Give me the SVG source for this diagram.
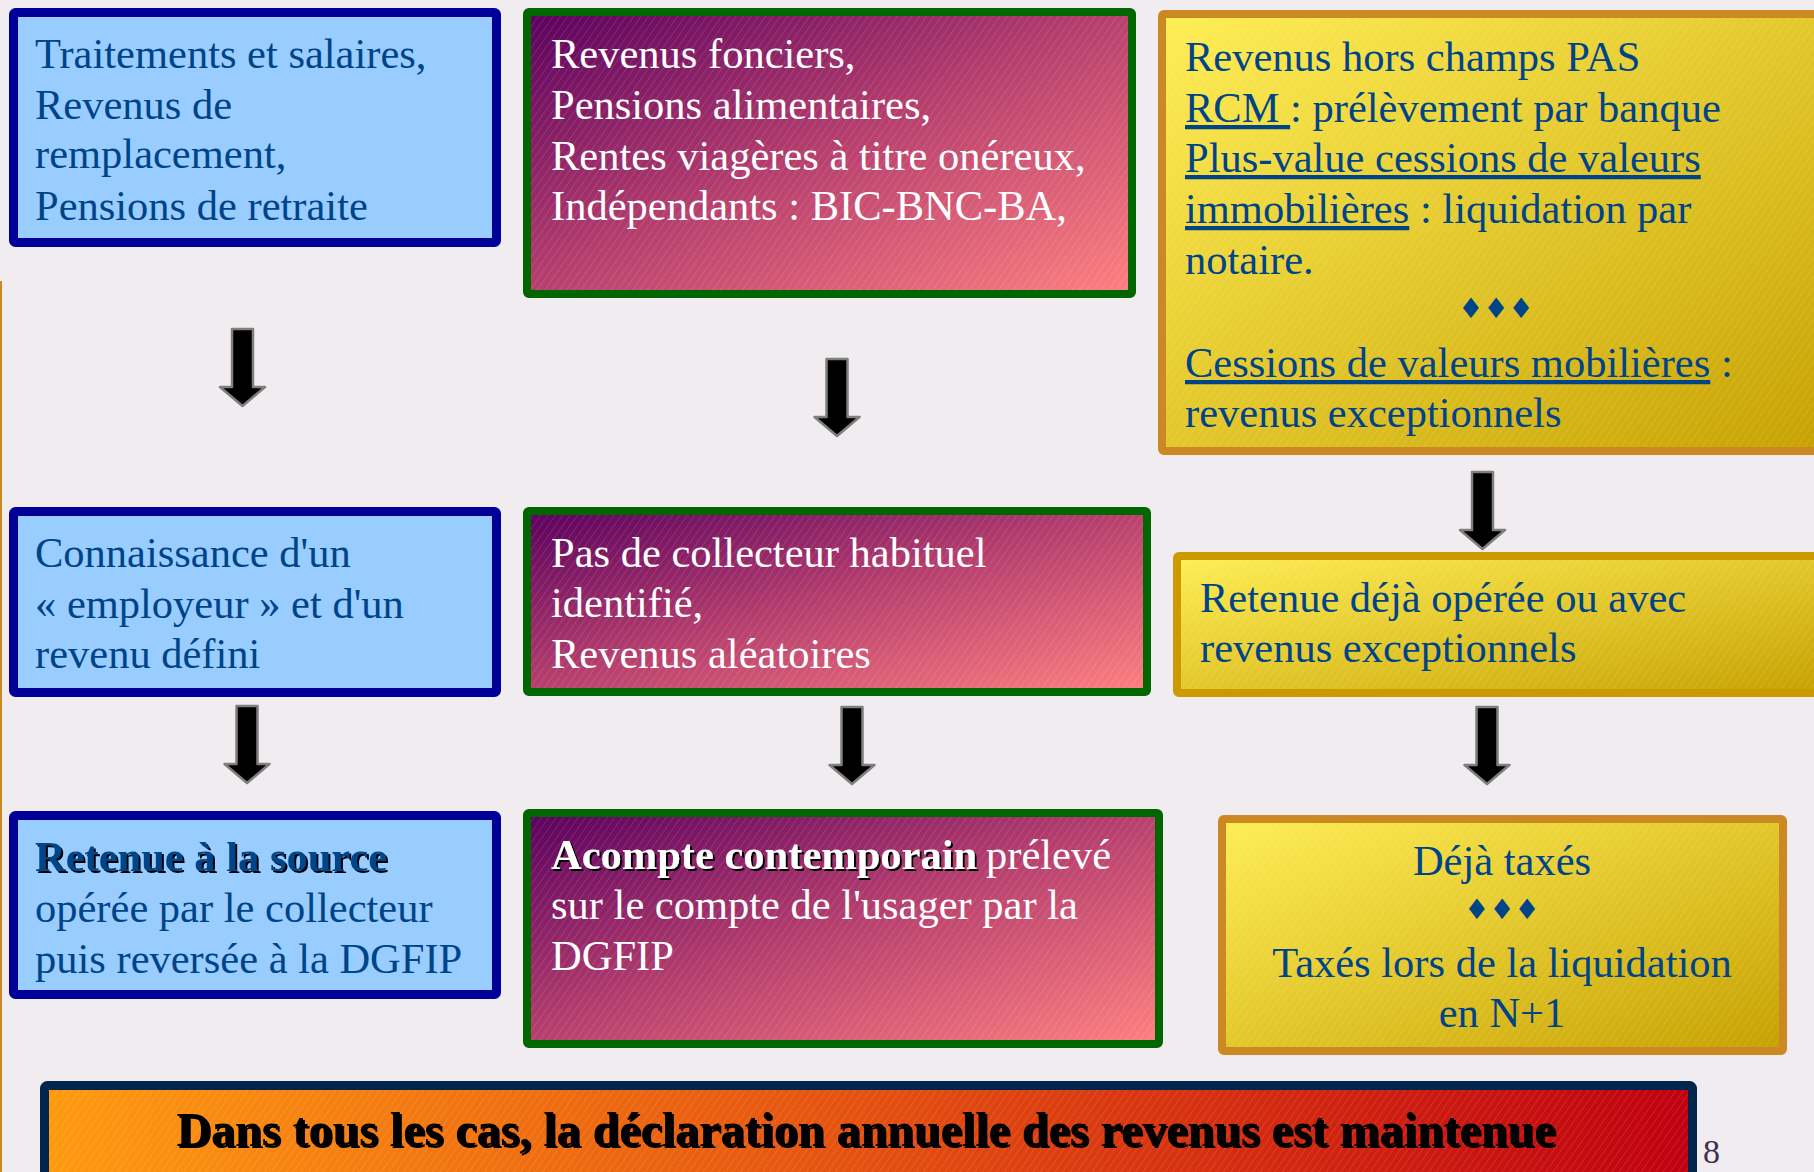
<svg xmlns="http://www.w3.org/2000/svg" xmlns:xlink="http://www.w3.org/1999/xlink" width="1814" height="1172" viewBox="0 0 1814 1172">
  <defs>
    <linearGradient id="gPurple" x1="0" y1="0" x2="1" y2="1">
      <stop offset="0" stop-color="#5A005E"/>
      <stop offset="0.5" stop-color="#B8406E"/>
      <stop offset="1" stop-color="#FF8080"/>
    </linearGradient>
    <linearGradient id="gYellow" x1="0" y1="0" x2="1" y2="1">
      <stop offset="0" stop-color="#FFEE55"/>
      <stop offset="1" stop-color="#C6A000"/>
    </linearGradient>
    <linearGradient id="gBar" x1="0" y1="0" x2="1" y2="0">
      <stop offset="0" stop-color="#FF9A10"/>
      <stop offset="0.5" stop-color="#E45010"/>
      <stop offset="1" stop-color="#C00010"/>
    </linearGradient>
    <pattern id="hatch" width="6" height="6" patternUnits="userSpaceOnUse" patternTransform="rotate(35)">
      <line x1="0" y1="0" x2="0" y2="6" stroke="#FFFFFF" stroke-opacity="0.22" stroke-width="1"/>
    </pattern>
    <filter id="shadow" x="-5%" y="-20%" width="110%" height="140%">
      <feDropShadow dx="2" dy="2" stdDeviation="0" flood-color="#000000" flood-opacity="1"/>
    </filter>
    <path id="arrow" d="M -10.5 0 H 10.5 V 58 H 22.5 L 0 77 L -22.5 58 H -10.5 Z"/>
  </defs>
  <style>
    .t { font-family: "Liberation Serif", "Times New Roman", serif; font-size: 42.5px; }
    .blue { fill: #004488; }
    .white { fill: #FFFFFF; }
    .bBlue { fill: #99CCFF; stroke: #000099; stroke-width: 9; }
    .bPurple { fill: url(#gPurple); stroke: #006600; stroke-width: 8; }
    .bYellow { fill: url(#gYellow); stroke: #CC8822; stroke-width: 8; }
    .hatch { fill: url(#hatch); }
    .arr { fill: #000000; stroke: #7F7F7F; stroke-width: 2.5; stroke-linejoin: round; }
    .dia { font-family: "DejaVu Sans", sans-serif; font-size: 28px; fill: #004488; }
    .u { text-decoration: underline; }
  </style>

  <rect x="0" y="0" width="1814" height="1172" fill="#F0ECF0"/>
  <rect x="0" y="281" width="2" height="891" fill="#CC8822"/>

  <g id="n1">
    <rect class="bBlue" x="13.5" y="12.5" width="483" height="230" rx="2"/>
    <text class="t blue" x="35" y="68">Traitements et salaires,</text>
    <text class="t blue" x="35" y="119">Revenus de</text>
    <text class="t blue" x="35" y="168">remplacement,</text>
    <text class="t blue" x="35" y="220">Pensions de retraite</text>
  </g>

  <g id="n2">
    <rect class="bPurple" x="527" y="12" width="605" height="282" rx="2"/>
    <rect class="hatch" x="531" y="16" width="597" height="274"/>
    <text class="t white" x="551" y="68">Revenus fonciers,</text>
    <text class="t white" x="551" y="119">Pensions alimentaires,</text>
    <text class="t white" x="551" y="170">Rentes viagères à titre onéreux,</text>
    <text class="t white" x="551" y="220">Indépendants : BIC-BNC-BA,</text>
  </g>

  <g id="n3">
    <rect class="bYellow" x="1162" y="14" width="680" height="437" rx="2"/>
    <rect class="hatch" x="1166" y="18" width="672" height="429"/>
    <text class="t blue" x="1185" y="71">Revenus hors champs PAS</text>
    <text class="t blue" x="1185" y="122"><tspan class="u">RCM </tspan>: prélèvement par banque</text>
    <text class="t blue" x="1185" y="172"><tspan class="u">Plus-value cessions de valeurs</tspan></text>
    <text class="t blue" x="1185" y="223"><tspan class="u">immobilières</tspan> : liquidation par</text>
    <text class="t blue" x="1185" y="274">notaire.</text>
    <text class="dia" x="1496" y="318" text-anchor="middle">♦♦♦</text>
    <text class="t blue" x="1185" y="377"><tspan class="u">Cessions de valeurs mobilières</tspan> :</text>
    <text class="t blue" x="1185" y="427">revenus exceptionnels</text>
  </g>

  <g id="n4">
    <rect class="bBlue" x="13.5" y="511.5" width="483" height="181" rx="2"/>
    <text class="t blue" x="35" y="567">Connaissance d'un</text>
    <text class="t blue" x="35" y="618">« employeur » et d'un</text>
    <text class="t blue" x="35" y="668">revenu défini</text>
  </g>

  <g id="n5">
    <rect class="bPurple" x="527" y="511" width="620" height="181" rx="2"/>
    <rect class="hatch" x="531" y="515" width="612" height="173"/>
    <text class="t white" x="551" y="567">Pas de collecteur habituel</text>
    <text class="t white" x="551" y="617">identifié,</text>
    <text class="t white" x="551" y="668">Revenus aléatoires</text>
  </g>

  <g id="n6">
    <rect class="bYellow" x="1177" y="556" width="660" height="137" rx="2" style="stroke:#CC9900"/>
    <rect class="hatch" x="1181" y="560" width="652" height="129"/>
    <text class="t blue" x="1200" y="612">Retenue déjà opérée ou avec</text>
    <text class="t blue" x="1200" y="662">revenus exceptionnels</text>
  </g>

  <g id="n7">
    <rect class="bBlue" x="13.5" y="815.5" width="483" height="179" rx="2"/>
    <text class="t blue" x="35" y="871" font-weight="bold" filter="url(#shadow)">Retenue à la source</text>
    <text class="t blue" x="35" y="922">opérée par le collecteur</text>
    <text class="t blue" x="35" y="973">puis reversée à la DGFIP</text>
  </g>

  <g id="n8">
    <rect class="bPurple" x="527" y="813" width="632" height="231" rx="2"/>
    <rect class="hatch" x="531" y="817" width="624" height="223"/>
    <text class="t white" x="551" y="869" font-weight="bold" filter="url(#shadow)">Acompte contemporain</text>
    <text class="t white" x="986" y="869">prélevé</text>
    <text class="t white" x="551" y="919">sur le compte de l'usager par la</text>
    <text class="t white" x="551" y="970">DGFIP</text>
  </g>

  <g id="n9">
    <rect class="bYellow" x="1222" y="819" width="561" height="232" rx="2"/>
    <rect class="hatch" x="1226" y="823" width="553" height="224"/>
    <text class="t blue" x="1502" y="875" text-anchor="middle">Déjà taxés</text>
    <text class="dia" x="1502" y="919" text-anchor="middle">♦♦♦</text>
    <text class="t blue" x="1502" y="977" text-anchor="middle">Taxés lors de la liquidation</text>
    <text class="t blue" x="1502" y="1027" text-anchor="middle">en N+1</text>
  </g>

  <g id="n10">
    <rect x="44.5" y="1085.5" width="1648" height="120" rx="3" fill="url(#gBar)" stroke="#00264D" stroke-width="9"/>
    <rect class="hatch" x="49" y="1090" width="1639" height="111"/>
    <text x="866" y="1146" text-anchor="middle" font-family="'Liberation Serif', 'Times New Roman', serif" font-size="48" font-weight="bold" fill="#000000" filter="url(#shadow)">Dans tous les cas, la déclaration annuelle des revenus est maintenue</text>
  </g>

  <text x="1703" y="1163" font-family="'Liberation Serif', 'Times New Roman', serif" font-size="34" fill="#403050">8</text>

  <g id="connectors">
    <use xlink:href="#arrow" class="arr" transform="translate(242.5,329)"/>
    <use xlink:href="#arrow" class="arr" transform="translate(837,359)"/>
    <use xlink:href="#arrow" class="arr" transform="translate(1482.5,472)"/>
    <use xlink:href="#arrow" class="arr" transform="translate(247,706)"/>
    <use xlink:href="#arrow" class="arr" transform="translate(852,707)"/>
    <use xlink:href="#arrow" class="arr" transform="translate(1487,707)"/>
  </g>
</svg>
